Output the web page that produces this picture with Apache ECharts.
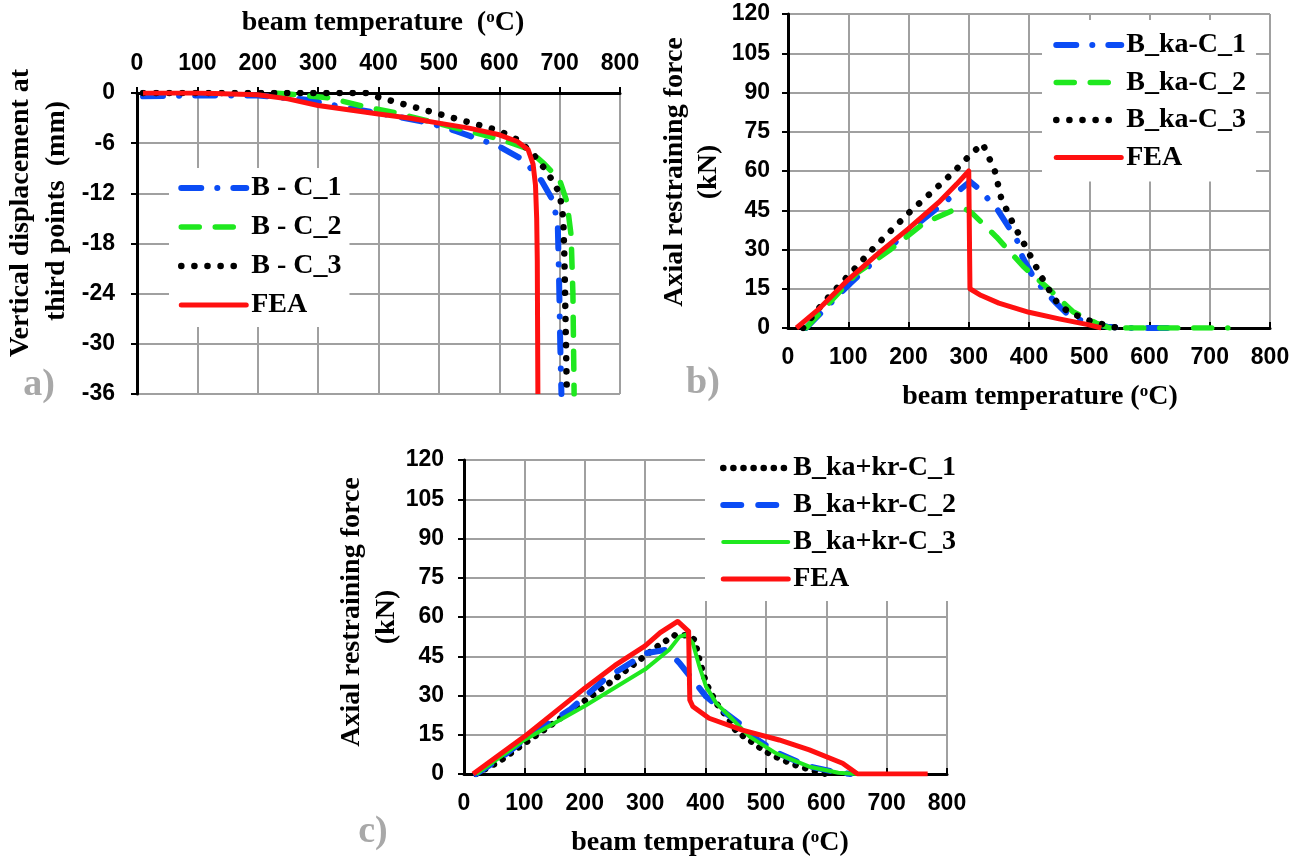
<!DOCTYPE html>
<html>
<head>
<meta charset="utf-8">
<script src="https://cdn.jsdelivr.net/npm/echarts@6/dist/echarts.min.js"></script>
<style>
  html, body { margin: 0; padding: 0; background: #fff; }
  #chart { width: 1302px; height: 858px; }
</style>
</head>
<body>
<div id="chart"></div>
<script>
// ---- a) vertical displacement at third points vs beam temperature [T (°C), d (mm)]
const aBC1 = [[10,-0.4],[100,-0.3],[200,-0.3],[280,-0.8],[350,-1.8],[430,-2.8],[485,-3.6],[530,-4.6],[570,-5.6],[600,-6.4],[640,-8.0],[670,-10.5],[690,-13],[697,-16],[699,-22],[701,-30],[703,-36]];
const aBC2 = [[230,0],[280,-0.3],[320,-0.6],[375,-1.6],[430,-2.4],[485,-3.4],[540,-4.4],[600,-5.5],[645,-6.6],[675,-8.5],[700,-10.4],[712,-13],[719,-17],[722,-24],[724,-36]];
const aBC3 = [[10,0],[300,0],[380,0],[400,-0.5],[450,-1.5],[500,-2.5],[550,-3.5],[600,-4.5],[630,-5.6],[655,-7.2],[680,-9.5],[700,-12],[706,-15],[708,-20],[710,-28],[712,-36]];
const aFEA = [[10,0],[100,0],[200,-0.2],[250,-0.7],[300,-1.5],[350,-2.0],[400,-2.5],[450,-3.0],[500,-3.6],[550,-4.2],[600,-5.0],[630,-5.8],[648,-6.8],[656,-8.5],[660,-11],[662,-15],[663,-20],[664,-36]];

// ---- b) axial restraining force, axial spring only [T (°C), F (kN)]
const bC1 = [[30,0],[60,7],[103,17],[150,27],[194,36],[252,46.6],[288,53.3],[302,56],[318,53],[349,44.8],[380,33.6],[389,27.2],[410,18.3],[443,10],[463,5.5],[490,2.5],[530,0.5],[560,0],[650,0]];
const bC2 = [[30,0],[70,10],[114,20.9],[169,29.8],[225,40],[274,45],[294,45.5],[305,44],[346,34.8],[391,23.4],[435,14.5],[473,6.2],[512,1.8],[535,0],[730,0]];
const bC3 = [[25,0],[60,10],[106,21.5],[139,29.8],[170,37],[205,45],[239,52],[272,59],[305,66.7],[323,70.5],[343,60.3],[354,49.5],[374,39.7],[396,30.4],[418,20.6],[432,15.1],[446,10],[465,6.2],[498,3],[537,0.4],[560,0]];
const bFEA = [[14,0],[50,7],[100,18.5],[150,28.5],[200,38],[250,48],[280,55],[300,60],[302,15],[320,12.5],[350,9.5],[400,6],[450,3.5],[500,1.2],[520,0]];

// ---- c) axial restraining force, axial + rotational springs [T (°C), F (kN)]
const cC1 = [[20,0],[60,5],[92,10.4],[125,15.6],[164,22],[203,28.5],[244,35.3],[280,41.7],[324,49.4],[349,53],[370,53],[382,51.3],[390,43.6],[401,34.7],[418,27],[440,20.5],[451,16.2],[473,12.9],[492,9.7],[511,7.1],[544,3.8],[575,1.5],[600,0]];
const cC2 = [[20,0],[60,6],[114,15.6],[175,24.5],[235,36.6],[302,46.2],[335,47.5],[357,42.4],[379,36],[401,29.6],[434,23.2],[456,19.4],[480,14],[520,8],[570,3],[610,1],[640,0]];
const cC3 = [[20,0],[100,13],[200,26],[300,40],[340,47.5],[357,52.5],[368,53.2],[379,50],[390,41],[401,33.4],[418,27],[440,22],[473,14.3],[517,7.9],[572,2.8],[620,0.5],[651,0]];
const cFEA = [[15,0],[100,14.3],[200,32.8],[250,41.5],[300,49],[325,54],[354,58.3],[372,54.5],[374,28.3],[379,25.8],[406,21.3],[461,16.8],[522,13],[572,9.2],[627,4.1],[652,0],[768,0]];

const tempTicks = { min: 0, max: 800, interval: 100 };
const dispTicks = { min: -36, max: 0, interval: 6 };
const forceTicks = { min: 0, max: 120, interval: 15 };

const BLUE = '#0b4cf5', GREEN = '#1fe81f', RED = '#ff1010', BLACK = '#000';
const GRIDLINE = '#a0a0a0';
const SANS = '"Liberation Sans", Arial, sans-serif';
const SERIF = '"Liberation Serif", "Times New Roman", serif';

function axisBase(extra, margin) {
  return Object.assign({
    type: 'value',
    axisLine: { show: true, onZero: false, lineStyle: { color: BLACK, width: 3 } },
    axisTick: { show: true, inside: false, length: 6, lineStyle: { color: BLACK, width: 2 } },
    splitLine: { show: true, lineStyle: { color: GRIDLINE, width: 2 } },
    axisLabel: { color: BLACK, fontFamily: SANS, fontWeight: 'bold', fontSize: 23, margin: margin || 18 }
  }, extra);
}
const innerTick = { show: true, inside: true, length: 6, lineStyle: { color: BLACK, width: 2 } };

const dashDot = { type: [20, 16, 0.1, 16], cap: 'round', width: 6 };
const dashed = { type: [18, 16], cap: 'round', width: 5.5 };
const dotted = { type: [0.1, 13], cap: 'round', width: 6.5 };

function line(name, data, xi, color, style, z) {
  return {
    type: 'line', name: name, data: data, xAxisIndex: xi, yAxisIndex: xi,
    showSymbol: false, symbol: 'none', smooth: false, z: z || 3,
    lineStyle: Object.assign({ color: color, join: 'round' }, style),
    itemStyle: { color: color }
  };
}

const legendText = { color: BLACK, fontFamily: SERIF, fontWeight: 'bold', fontSize: 28, lineHeight: 28 };

function legendBox(names, left, top, gap, padding) {
  return {
    data: names, left: left, top: top, orient: 'vertical',
    itemWidth: 65, itemHeight: 14, itemGap: gap, padding: padding,
    backgroundColor: '#fff', selectedMode: false,
    itemStyle: { opacity: 0 },
    lineStyle: { width: 'inherit', type: 'inherit', cap: 'round' },
    textStyle: legendText
  };
}

const titleFont = 'bold 28px ' + SERIF;
function label(text, x, y, rotate, rich) {
  return {
    type: 'text', x: x, y: y, rotation: rotate ? Math.PI / 2 : 0, z: 10,
    style: { text: text, font: titleFont, fill: BLACK, align: 'center', verticalAlign: 'middle', rich: rich }
  };
}
const degRich = {
  sup: { font: 'bold 17px ' + SERIF, fill: BLACK, verticalAlign: 'top', padding: [0, 0, 10, 0] }
};
function panelTag(text, x, y) {
  return {
    type: 'text', x: x, y: y, z: 10,
    style: { text: text, font: 'bold 38px ' + SERIF, fill: '#a8a8a8', align: 'center', verticalAlign: 'middle' }
  };
}

const option = {
  animation: false,
  backgroundColor: '#fff',
  grid: [
    { left: 137, top: 93, width: 483, height: 301 },
    { left: 788, top: 14, width: 482, height: 314 },
    { left: 464, top: 460, width: 483, height: 314 }
  ],
  xAxis: [
    axisBase(Object.assign({ gridIndex: 0, position: 'top' }, tempTicks)),
    axisBase(Object.assign({ gridIndex: 1, position: 'bottom', axisTick: innerTick }, tempTicks)),
    axisBase(Object.assign({ gridIndex: 2, position: 'bottom', axisTick: innerTick }, tempTicks))
  ],
  yAxis: [
    axisBase(Object.assign({ gridIndex: 0, position: 'left' }, dispTicks), 22),
    axisBase(Object.assign({ gridIndex: 1, position: 'left' }, forceTicks), 18),
    axisBase(Object.assign({ gridIndex: 2, position: 'left' }, forceTicks), 20)
  ],
  legend: [
    legendBox(['B - C_1', 'B - C_2', 'B - C_3', 'FEA'], 169, 168, 11, [6, 8, 8, 9]),
    legendBox(['B_ka-C_1', 'B_ka-C_2', 'B_ka-C_3', 'FEA'], 1042, 20, 9.5, [11, 10, 10, 11]),
    legendBox(['B_ka+kr-C_1', 'B_ka+kr-C_2', 'B_ka+kr-C_3', 'FEA'], 705, 448, 9, [6, 6, 8, 15])
  ],
  series: [
    line('B - C_1', aBC1, 0, BLUE, dashDot),
    line('B - C_2', aBC2, 0, GREEN, dashed),
    line('B - C_3', aBC3, 0, BLACK, dotted),
    line('FEA', aFEA, 0, RED, { width: 5 }, 4),

    line('B_ka-C_1', bC1, 1, BLUE, dashDot),
    line('B_ka-C_2', bC2, 1, GREEN, dashed),
    line('B_ka-C_3', bC3, 1, BLACK, dotted),
    line('FEA', bFEA, 1, RED, { width: 5 }, 4),

    line('B_ka+kr-C_1', cC1, 2, BLACK, { type: [0.1, 10], cap: 'round', width: 6.5 }),
    line('B_ka+kr-C_2', cC2, 2, BLUE, { type: [18, 17], cap: 'round', width: 6 }),
    line('B_ka+kr-C_3', cC3, 2, GREEN, { width: 4 }),
    line('FEA', cFEA, 2, RED, { width: 5 }, 4)
  ],
  graphic: [
    label('beam temperature  ({sup|o}C)', 383, 23, false, degRich),
    label('Vertical displacement at', 21, 213, true),
    label('third points  (mm)', 57, 211, true),
    label('Axial restraining force', 675, 172, true),
    label('(kN)', 709, 172, true),
    label('beam temperature ({sup|o}C)', 1040, 397, false, degRich),
    label('Axial restraining force', 352, 612, true),
    label('(kN)', 387, 617, true),
    label('beam temperatura ({sup|o}C)', 710, 843, false, degRich),
    panelTag('a)', 39, 385),
    panelTag('b)', 703, 383),
    panelTag('c)', 373, 832)
  ]
};

const chart = echarts.init(document.getElementById('chart'), null, { renderer: 'canvas' });
chart.setOption(option);
</script>
</body>
</html>
